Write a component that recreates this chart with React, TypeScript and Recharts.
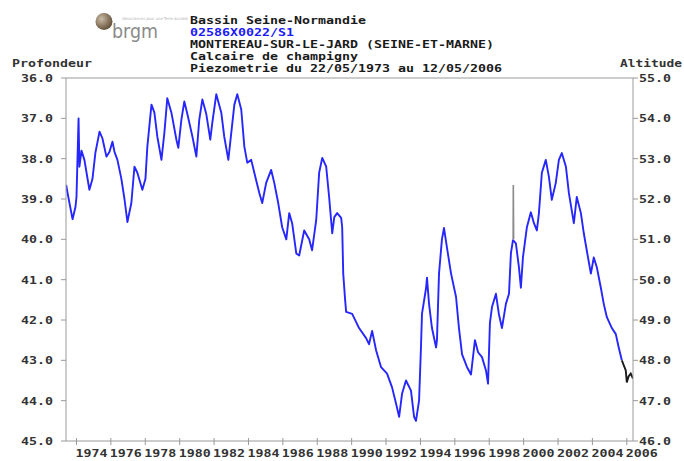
import React from 'react';
import { LineChart, Line, XAxis, YAxis, ReferenceLine } from 'recharts';

// Piezometric depth (m) over time (decimal years)
const years = [
  1973.40, 1973.48, 1973.77, 1973.94, 1974.0, 1974.12, 1974.17, 1974.29, 1974.46, 1974.75,
  1974.93, 1975.10, 1975.34, 1975.51, 1975.74, 1975.92, 1976.09, 1976.21, 1976.38, 1976.61,
  1976.79, 1976.96, 1977.19, 1977.37, 1977.54, 1977.83, 1978.01, 1978.12, 1978.36, 1978.53,
  1978.70, 1978.94, 1979.11, 1979.28, 1979.52, 1979.81, 1979.92, 1980.10, 1980.27, 1980.45,
  1980.74, 1980.97, 1981.14, 1981.32, 1981.55, 1981.78, 1981.90, 1982.13, 1982.42, 1982.59,
  1982.83, 1983.0, 1983.18, 1983.35, 1983.58, 1983.76, 1983.93, 1984.16, 1984.34, 1984.63,
  1984.80, 1985.03, 1985.32, 1985.50, 1985.73, 1985.96, 1986.20, 1986.37, 1986.54, 1986.78,
  1986.95, 1987.24, 1987.53, 1987.70, 1987.94, 1988.11, 1988.29, 1988.52, 1988.69, 1988.87,
  1988.99, 1989.16, 1989.39, 1989.45, 1989.51, 1989.62, 1989.68, 1990.03, 1990.43, 1990.84,
  1991.01, 1991.19, 1991.42, 1991.71, 1992.06, 1992.35, 1992.58, 1992.76, 1992.93, 1993.16,
  1993.45, 1993.63, 1993.74, 1993.92, 1994.03, 1994.09, 1994.33, 1994.38, 1994.50, 1994.67,
  1994.91, 1994.96, 1995.08, 1995.25, 1995.37, 1995.54, 1995.78, 1996.07, 1996.24, 1996.42,
  1996.71, 1996.94, 1997.17, 1997.35, 1997.58, 1997.81, 1997.93, 1998.04, 1998.16, 1998.39,
  1998.56, 1998.74, 1998.97, 1999.15, 1999.26, 1999.38, 1999.55, 1999.73, 1999.84, 1999.96,
  2000.19, 2000.42, 2000.60, 2000.77, 2000.89, 2001.06, 2001.29, 2001.47, 2001.64, 2001.87,
  2002.05, 2002.22, 2002.46, 2002.63, 2002.92, 2003.09, 2003.33, 2003.50, 2003.67, 2003.91,
  2004.08, 2004.26, 2004.49, 2004.66, 2004.84, 2005.13, 2005.36, 2005.53, 2005.71,
];
const depths = [
  38.65, 38.85, 39.5, 39.2, 38.95, 37.0, 38.2, 37.8, 38.03, 38.77,
  38.5, 37.85, 37.33, 37.5, 37.95, 37.83, 37.58, 37.83, 38.03, 38.5,
  39.0, 39.57, 39.1, 38.2, 38.35, 38.77, 38.5, 37.7, 36.66, 36.86,
  37.45, 38.03, 37.36, 36.5, 36.86, 37.53, 37.73, 37.03, 36.58, 36.9,
  37.45, 37.95, 37.03, 36.53, 36.9, 37.53, 37.1, 36.4, 36.86, 37.45,
  38.03, 37.36, 36.66, 36.4, 36.78, 37.7, 38.1, 38.03, 38.35, 38.85,
  39.1, 38.6, 38.28, 38.6, 39.1, 39.7, 40.0, 39.35, 39.6, 40.35,
  40.4, 39.78, 40.0, 40.27, 39.52, 38.35, 37.98, 38.2, 38.95, 39.85,
  39.45, 39.35, 39.47, 39.7, 40.85, 41.5, 41.8, 41.85, 42.2, 42.45,
  42.6, 42.27, 42.75, 43.17, 43.33, 43.67, 44.07, 44.4, 43.83, 43.5,
  43.75, 44.4, 44.5, 44.0, 42.68, 41.85, 41.2, 40.95, 41.6, 42.2,
  42.68, 42.5, 40.85, 40.0, 39.72, 40.2, 40.85, 41.43, 42.2, 42.85,
  43.17, 43.35, 42.5, 42.8, 42.92, 43.25, 43.58, 42.08, 41.68, 41.35,
  41.85, 42.2, 41.6, 41.35, 40.35, 40.02, 40.1, 40.7, 41.2, 40.45,
  39.7, 39.33, 39.6, 39.78, 39.35, 38.35, 38.03, 38.45, 39.02, 38.6,
  38.03, 37.86, 38.2, 38.85, 39.6, 38.95, 39.35, 39.85, 40.27, 40.85,
  40.45, 40.7, 41.2, 41.6, 41.93, 42.2, 42.35, 42.68, 43.0,
];

// Doubtful measurement (grey) and latest measurements (black)
const grayYears = [1999.39, 1999.40, 1999.42];
const grayDepths = [40.0, 38.65, 40.0];
const blackYears = [2005.71, 2005.94, 2006.0, 2006.1, 2006.23, 2006.36];
const blackDepths = [43.0, 43.25, 43.55, 43.4, 43.33, 43.45];

const xTicks = [1974, 1976, 1978, 1980, 1982, 1984, 1986, 1988, 1990, 1992, 1994, 1996, 1998, 2000, 2002, 2004, 2006];
const depthTicks = [36, 37, 38, 39, 40, 41, 42, 43, 44, 45];
const altitudeTicks = [46, 47, 48, 49, 50, 51, 52, 53, 54, 55];

const headerLines = [
  'Bassin Seine-Normandie',
  '02586X0022/S1',
  'MONTEREAU-SUR-LE-JARD (SEINE-ET-MARNE)',
  'Calcaire de champigny',
  'Piezometrie du 22/05/1973 au 12/05/2006',
];

const toRows = (xs: number[], ys: number[]) => xs.map((t, i) => ({ t, v: ys[i] }));
const blueData = toRows(years, depths);
const grayData = toRows(grayYears, grayDepths);
const blackData = toRows(blackYears, blackDepths);

const mono: React.CSSProperties = {
  fontFamily: '"DejaVu Sans Mono", monospace',
  fontWeight: 'bold',
  fontSize: 11,
  fill: '#333333',
};
const AXIS = '#9a9a9a';

const XTick = (props: any) => {
  const { x, y, payload } = props;
  const s = String(payload.value);
  return (
    <g>
      <line x1={x} x2={x} y1={y - 3} y2={y + 4} stroke={AXIS} />
      <text x={x - 1} y={y + 16} textLength={s.length * 8} lengthAdjust="spacingAndGlyphs" style={mono}>{s}</text>
    </g>
  );
};

const LeftTick = (props: any) => {
  const { x, y, payload } = props;
  const s = Number(payload.value).toFixed(1);
  return (
    <g>
      <line x1={x - 5} x2={x} y1={y} y2={y} stroke={AXIS} />
      <text x={x - 13} y={y + 4} textAnchor="end" textLength={s.length * 8} lengthAdjust="spacingAndGlyphs" style={mono}>{s}</text>
    </g>
  );
};

const RightTick = (props: any) => {
  const { x, y, payload } = props;
  const s = Number(payload.value).toFixed(1);
  return (
    <g>
      <line x1={x} x2={x + 5} y1={y} y2={y} stroke={AXIS} />
      <text x={x + 6} y={y + 4} textLength={s.length * 8} lengthAdjust="spacingAndGlyphs" style={mono}>{s}</text>
    </g>
  );
};

export default function App() {
  return (
    <div style={{ position: 'absolute', left: 0, top: 0, width: 684, height: 461, background: '#fff' }}>
      <LineChart width={684} height={461} margin={{ top: 78, right: 10, bottom: 0, left: 10 }}>
        <XAxis
          dataKey="t"
          type="number"
          domain={[1973.39, 2006.36]}
          ticks={xTicks}
          allowDataOverflow
          height={20}
          tickSize={0}
          tickMargin={0}
          tickLine={false}
          axisLine={{ stroke: AXIS }}
          tick={<XTick />}
          interval={0}
        />
        <YAxis
          yAxisId="left"
          type="number"
          domain={[36, 45]}
          reversed
          ticks={depthTicks}
          allowDataOverflow
          width={56}
          tickSize={0}
          tickMargin={0}
          tickLine={false}
          axisLine={{ stroke: AXIS }}
          tick={<LeftTick />}
          interval={0}
        />
        <YAxis
          yAxisId="right"
          orientation="right"
          type="number"
          domain={[46, 55]}
          ticks={altitudeTicks}
          allowDataOverflow
          width={41}
          tickSize={0}
          tickMargin={0}
          tickLine={false}
          axisLine={{ stroke: AXIS }}
          tick={<RightTick />}
          interval={0}
        />
        <ReferenceLine yAxisId="left" y={36} stroke={AXIS} ifOverflow="visible" />
        <Line yAxisId="left" data={blueData} dataKey="v" type="linear" stroke="#2626ff" strokeWidth={1.9} strokeLinejoin="round" dot={false} isAnimationActive={false} />
        <Line yAxisId="left" data={grayData} dataKey="v" type="linear" stroke="#8c8c8c" strokeWidth={1.6} dot={false} isAnimationActive={false} />
        <Line yAxisId="left" data={blackData} dataKey="v" type="linear" stroke="#1a1a1a" strokeWidth={1.9} dot={false} isAnimationActive={false} />
      </LineChart>
      <svg width={684} height={80} style={{ position: 'absolute', left: 0, top: 0 }}>
        <defs>
          <radialGradient id="ball" cx="35%" cy="35%" r="70%">
            <stop offset="0%" stopColor="#c9bba8" />
            <stop offset="60%" stopColor="#8c7860" />
            <stop offset="100%" stopColor="#5e4e3c" />
          </radialGradient>
        </defs>
        <circle cx={104} cy={21.5} r={8.5} fill="url(#ball)" />
        <text x={122} y={20} fontSize={4} fill="#b5b5b5" fontFamily="DejaVu Sans, sans-serif" textLength={66} lengthAdjust="spacingAndGlyphs">Géosciences pour une Terre durable</text>
        <text x={112} y={38} fontSize={19} fill="#8a8a8a" fontFamily="DejaVu Sans, sans-serif" textLength={46} lengthAdjust="spacingAndGlyphs">brgm</text>
        {headerLines.map((line, i) => (
          <text
            key={i}
            x={190}
            y={24 + i * 12}
            textLength={line.length * 8}
            lengthAdjust="spacingAndGlyphs"
            style={{ ...mono, fill: i === 1 ? '#1a1aff' : '#1a1a1a' }}
          >
            {line}
          </text>
        ))}
        <text x={12} y={67} textLength={80} lengthAdjust="spacingAndGlyphs" style={mono}>Profondeur</text>
        <text x={620} y={67} textLength={62} lengthAdjust="spacingAndGlyphs" style={mono}>Altitude</text>
      </svg>
    </div>
  );
}
